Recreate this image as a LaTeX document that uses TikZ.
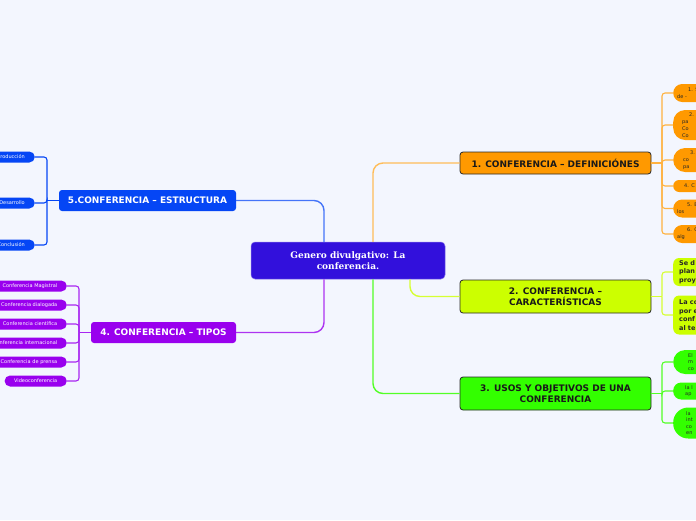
\documentclass[tikz,border=0pt]{standalone}
\usepackage{fontspec}
\setmainfont{DejaVu Sans}
\newfontfamily\serifb{DejaVu Serif}
\definecolor{bgc}{RGB}{243,246,254}
\definecolor{cblue}{RGB}{50,16,220}
\definecolor{sblue}{RGB}{5,70,245}
\definecolor{spurple}{RGB}{153,0,238}
\definecolor{sorange}{RGB}{255,153,0}
\definecolor{slime}{RGB}{204,255,0}
\definecolor{sgreen}{RGB}{51,255,0}
\definecolor{edgec}{RGB}{40,40,40}
\begin{document}
\begin{tikzpicture}[x=1pt,y=-1pt,
  mainbox/.style={rounded corners=3pt, font=\bfseries\fontsize{9}{11.5}\selectfont, align=center, inner sep=0pt},
  darkbox/.style={mainbox, draw=edgec, line width=0.8pt, text=black!90},
  lightbox/.style={mainbox, text=white},
  kidR/.style={anchor=west, rounded corners=#1, inner ysep=0pt, align=left, text width=80pt, text=black!85},
  okid/.style={kidR=#1, fill=sorange, inner xsep=4pt, font=\fontsize{5}{7}\selectfont},
  lkid/.style={kidR=#1, fill=slime, inner xsep=6pt, font=\bfseries\fontsize{6.5}{8.5}\selectfont},
  gkid/.style={kidR=#1, fill=sgreen, inner xsep=15pt, font=\fontsize{5}{6.5}\selectfont},
  kidL/.style={anchor=east, rounded corners=5.5pt, minimum height=11pt, inner ysep=0pt, text=white, font=\fontsize{5}{6}\selectfont},
  bkid/.style={kidL, fill=sblue, align=right, text width=80pt, inner xsep=10pt},
  pkid/.style={kidL, fill=spurple, align=right, text width=80pt, inner xsep=9.5pt},
  conn/.style={line width=1.4pt, rounded corners=10pt},
  brk/.style={line width=1.1pt, rounded corners=3pt},
]
\useasboundingbox (0,0) rectangle (696,520);
\fill[bgc] (0,0) rectangle (696,520);
\begin{scope}
\clip (0,0) rectangle (696,520);

% central and main nodes
\node[rounded corners=4pt, fill=cblue, draw=cblue!60!white, line width=0.5pt, minimum width=194pt, minimum height=37pt, inner sep=0pt,
  text=white, align=center, font=\serifb\bfseries\fontsize{9}{11}\selectfont] (c) at (348,260.5) {Genero divulgativo: La\\conferencia.};
\node[lightbox, fill=sblue, minimum width=177pt, minimum height=21pt] (s5) at (147.5,200.5) {5.CONFERENCIA – ESTRUCTURA};
\node[lightbox, fill=spurple, minimum width=145pt, minimum height=21pt] (s4) at (163.5,332.5) {4. CONFERENCIA – TIPOS};
\node[darkbox, fill=sorange, minimum width=191pt, minimum height=22pt] (s1) at (555.5,163) {1. CONFERENCIA – DEFINICIÓNES};
\node[darkbox, fill=slime, minimum width=191pt, minimum height=33pt] (s2) at (555.5,296.5) {2. CONFERENCIA –\\CARACTERÍSTICAS};
\node[darkbox, fill=sgreen, minimum width=191pt, minimum height=33pt] (s3) at (555.5,393.5) {3. USOS Y OBJETIVOS DE UNA\\CONFERENCIA};

% connectors from centre
\draw[conn, draw=sblue!75!white] ([xshift=-24pt]c.north) |- (s5.east);
\draw[conn, draw=sorange!65!white] ([xshift=25pt]c.north) |- (s1.west);
\draw[conn, draw=spurple!80!white] ([xshift=-24pt]c.south) |- (s4.east);
\draw[conn, draw=sgreen!85!white] ([xshift=25pt]c.south) |- (s3.west);
\draw[conn, draw=slime!80!white] ([xshift=62pt]c.south) |- (s2.west);

% orange children
\node[okid=9pt, minimum height=18pt] (o1) at (673,93) {\hspace*{11pt}1. S\\de -};
\node[okid=12pt, minimum height=30pt] (o2) at (673,125) {\hspace*{12pt}2.\\\hspace*{5pt}pa\\\hspace*{5pt}Co\\\hspace*{5pt}Co};
\node[okid=12pt, minimum height=24pt] (o3) at (673,160) {\hspace*{13pt}3.\\\hspace*{6pt}co\\\hspace*{6pt}pa};
\node[okid=6pt, minimum height=12pt] (o4) at (673,186) {\hspace*{7pt}4. C};
\node[okid=9pt, minimum height=18pt] (o5) at (673,208.5) {\hspace*{10pt}5. E\\los};
\node[okid=9pt, minimum height=18pt] (o6) at (673,234) {\hspace*{10pt}6. C\\alg};
\coordinate (b1) at (662,163);
\draw[brk, draw=sorange!75!white] (s1.east) -- (b1);
\foreach \k in {o1,o2,o3,o4,o5,o6} \draw[brk, draw=sorange!75!white] (b1) |- (\k.west);

% lime children
\node[lkid=6pt, minimum height=28pt] (l1) at (673,272) {Se d\\plan\\proy};
\node[lkid=6pt, minimum height=39pt] (l2) at (673,315) {La co\\por e\\conf\\al te};
\coordinate (b2) at (662,296.5);
\draw[brk, draw=slime!80!white] (s2.east) -- (b2);
\foreach \k in {l1,l2} \draw[brk, draw=slime!80!white] (b2) |- (\k.west);

% green children
\node[gkid=12pt, minimum height=24pt] (g1) at (673,362) {El\\m\\co};
\node[gkid=8pt, minimum height=17pt, inner xsep=12pt] (g2) at (673,391) {la l\\ap};
\node[gkid=15pt, minimum height=31pt, inner xsep=13pt] (g3) at (673,423) {la\\int\\co\\en};
\coordinate (b3) at (662,393.5);
\draw[brk, draw=sgreen!85!white] (s3.east) -- (b3);
\foreach \k in {g1,g2,g3} \draw[brk, draw=sgreen!85!white] (b3) |- (\k.west);

% blue children
\node[bkid] (e1) at (35,157) {Introducción};
\node[bkid] (e2) at (35,203) {Desarrollo};
\node[bkid] (e3) at (35,245) {Conclusión};
\coordinate (b5) at (47,200.5);
\draw[brk, draw=sblue] (s5.west) -- (b5);
\foreach \k in {e1,e2,e3} \draw[brk, draw=sblue] (b5) |- (\k.east);

% purple children
\node[pkid] (p1) at (67,286) {Conferencia Magistral};
\node[pkid] (p2) at (67,305) {Conferencia dialogada};
\node[pkid] (p3) at (67,324) {Conferencia científica};
\node[pkid] (p4) at (67,343) {Conferencia internacional};
\node[pkid] (p5) at (67,362) {Conferencia de prensa};
\node[kidL, fill=spurple, inner xsep=9.5pt] (p6) at (67,381) {Videoconferencia};
\coordinate (b4) at (79,332.5);
\draw[brk, draw=spurple!85!white] (s4.west) -- (b4);
\foreach \k in {p1,p2,p3,p4,p5,p6} \draw[brk, draw=spurple!85!white] (b4) |- (\k.east);
\end{scope}
\end{tikzpicture}
\end{document}
